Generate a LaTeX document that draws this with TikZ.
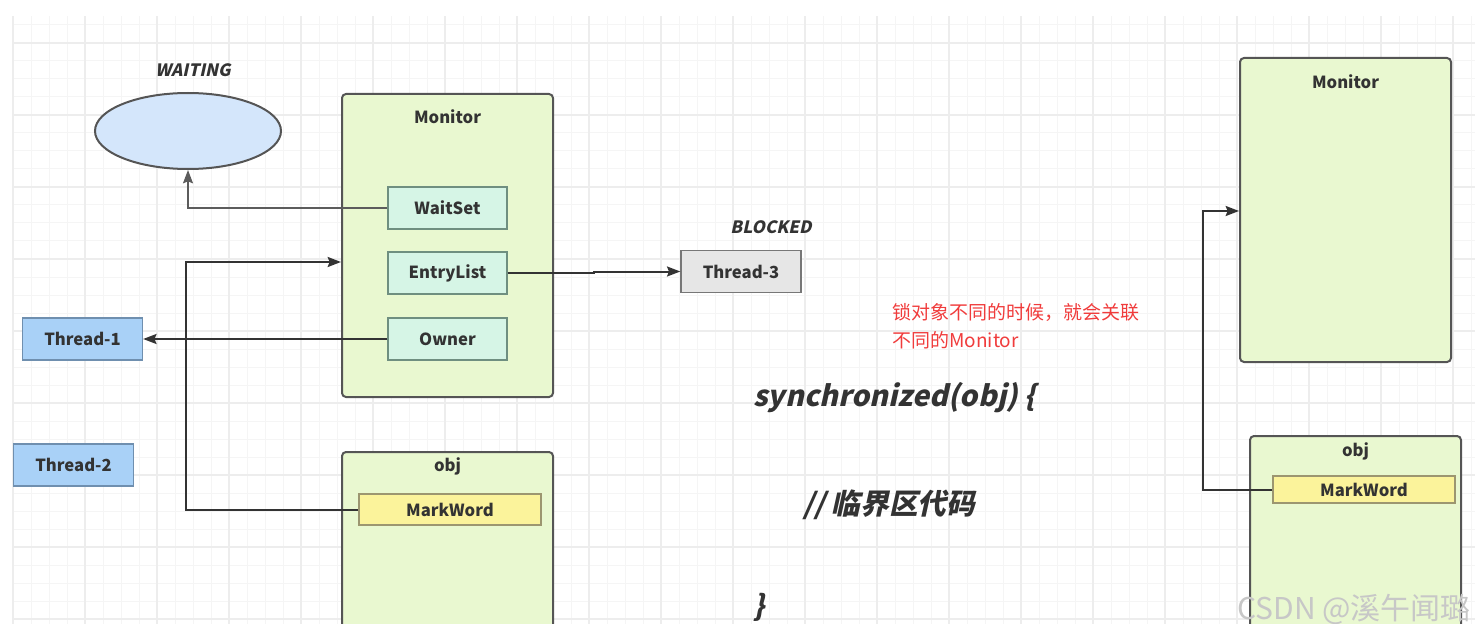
\documentclass[tikz,border=0pt]{standalone}
\usepackage{fontspec}
\setmainfont{Noto Sans CJK SC}
\newfontfamily\slantfont{Noto Sans CJK SC}[FakeSlant=0.22]
\usetikzlibrary{shapes.geometric,arrows.meta}
\definecolor{ink}{HTML}{333333}
\definecolor{boxline}{HTML}{555555}
\definecolor{monfill}{HTML}{E9F8D0}
\definecolor{slotfill}{HTML}{D6F5E6}
\definecolor{slotline}{HTML}{6F8F80}
\definecolor{threadfill}{HTML}{A9D1F7}
\definecolor{threadline}{HTML}{6F8FAF}
\definecolor{greyfill}{HTML}{E6E6E6}
\definecolor{markfill}{HTML}{FBF39B}
\definecolor{markline}{HTML}{9C9670}
\definecolor{waitfill}{HTML}{D4E6FB}
\definecolor{notered}{HTML}{F03C3C}
\definecolor{gridminor}{HTML}{F5F5F5}
\definecolor{gridmajor}{HTML}{EDEDED}
\newcommand{\lbl}{\fontsize{12.5}{14}\selectfont\bfseries}
\newcommand{\statefont}{\fontsize{12.75}{15}\selectfont\slantfont\bfseries}
\newcommand{\codefont}{\fontsize{21.5}{25}\selectfont\slantfont\bfseries}

\begin{document}
\begin{tikzpicture}[x=0.75pt,y=-0.75pt,text=ink]
			\tikzset{bigbox/.style={draw=boxline,line width=1.5pt,rounded corners=3pt,fill=monfill,inner sep=0pt}}
			\tikzset{slot/.style={draw=slotline,line width=1pt,fill=slotfill,minimum width=89.25pt,minimum height=31.5pt,font=\lbl}}
			\tikzset{thread/.style={draw=threadline,line width=1pt,fill=threadfill,minimum width=90pt,minimum height=31.5pt,font=\lbl}}
			\tikzset{markword/.style={draw=markline,line width=1pt,fill=markfill,minimum width=136.5pt,font=\lbl}}
			\tikzset{arr/.style={draw=ink,line width=1.5pt,-{Stealth[length=10pt,width=7.5pt,inset=1.5pt]}}}
			\useasboundingbox (0,0) rectangle (1475,624);
			% background grid
			\foreach \gx in {13,31,...,1475} \draw[gridminor,line width=0.75pt] (\gx,16) -- (\gx,624);
			\foreach \gy in {25,43,...,624} \draw[gridminor,line width=0.75pt] (13,\gy) -- (1475,\gy);
			\foreach \gx in {13,85,...,1475} \draw[gridmajor,line width=1pt] (\gx,16) -- (\gx,624);
			\foreach \gy in {43,115,...,624} \draw[gridmajor,line width=1pt] (13,\gy) -- (1475,\gy);
			% left side
			\node[ellipse,draw=boxline,line width=1.5pt,fill=waitfill,minimum width=139.5pt,minimum height=57pt] (waiting) at (188,131) {};
			\node[font=\statefont] (waitlbl) at (193,70) {WAITING};
			\node[bigbox,minimum width=158.25pt,minimum height=227.25pt] (monitor) at (447.5,245.5) {};
			\node[font=\lbl] (montitle) at (447.5,117) {Monitor};
			\node[slot] (waitset) at (447.5,208) {WaitSet};
			\node[slot] (entrylist) at (447.5,273) {EntryList};
			\node[slot] (owner) at (447.5,339) {Owner};
			\node[thread] (threadone) at (82.5,339) {Thread-1};
			\node[thread] (threadtwo) at (73.5,465) {Thread-2};
			\node[bigbox,minimum width=158.25pt,minimum height=141pt] (obj) at (447.5,546) {};
			\node[font=\lbl] (objtitle) at (447.5,466) {obj};
			\node[markword,minimum height=23.25pt] (markword) at (450,509.5) {MarkWord};
			\node[thread,fill=greyfill,draw=boxline!80] (threadthree) at (741,271.5) {Thread-3};
			\node[font=\statefont] (blocklbl) at (771,227) {BLOCKED};
			\draw[arr,draw=ink!80,line width=1.1pt] (waitset.west) -| (waiting.south);
			\draw[arr] (entrylist.east) -- ++(86,0) |- (threadthree.west);
			\draw[arr] (owner.west) -- (threadone.east);
			\coordinate (turnA) at (186,262);
			\draw[arr] (markword.west) -| (turnA) -- (turnA -| monitor.west);
			% middle text
			\node[font=\fontsize{14.25}{21}\selectfont,text=notered,align=left,anchor=north west,inner sep=0pt] (note) at (892,303) {锁对象不同的时候，就会关联\\不同的Monitor};
			\node[font=\codefont,anchor=west,inner sep=0pt] (codehead) at (753,398) {synchronized(obj) \{};
			\node[font=\codefont,anchor=west,inner sep=0pt] (codebody) at (803,505) {// 临界区代码};
			\node[font=\codefont,anchor=west,inner sep=0pt] (codeend) at (753,607) {\}};
			% right side
			\node[bigbox,minimum width=158.25pt,minimum height=228pt] (monitortwo) at (1345.5,210) {};
			\node[font=\lbl] (montitletwo) at (1345.5,82) {Monitor};
			\node[bigbox,minimum width=158.25pt,minimum height=153pt] (objtwo) at (1355.5,538) {};
			\node[font=\lbl] (objtitletwo) at (1355.5,451) {obj};
			\node[markword,minimum height=20.25pt] (markwordtwo) at (1364,489.5) {MarkWord};
			\coordinate (turnB) at (1203,211);
			\draw[arr] (markwordtwo.west) -| (turnB) -- (turnB -| monitortwo.west);
			\node[font=\fontsize{22.5}{26}\selectfont,text=black!22,anchor=west,inner sep=0pt] (mark) at (1237,609) {CSDN @溪午闻璐};
		\end{tikzpicture}
\end{document}
